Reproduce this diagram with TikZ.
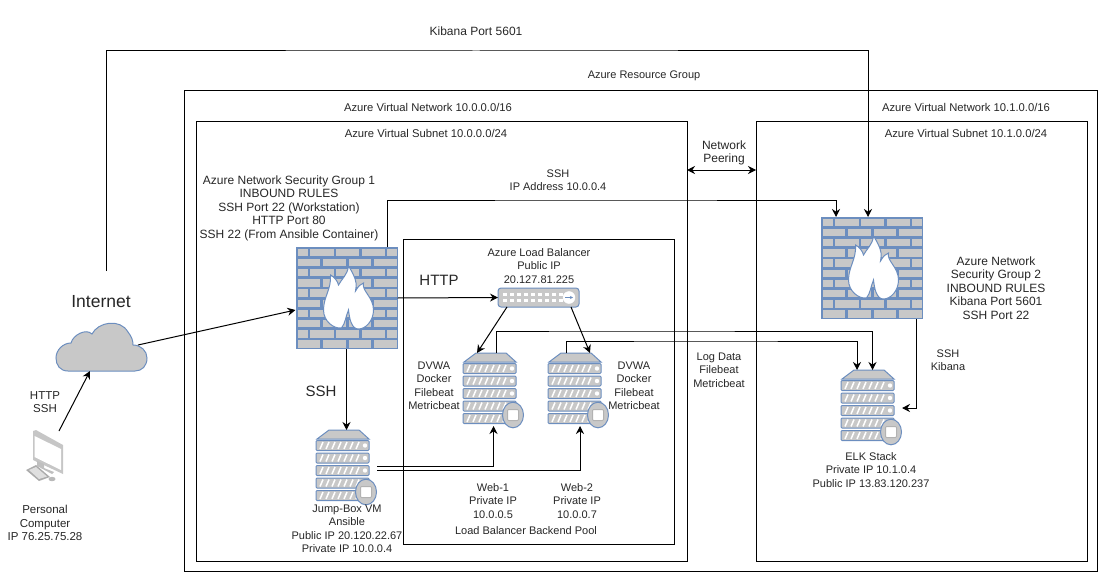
\documentclass[tikz,border=0pt]{standalone}
\usepackage{fontspec}
\setmainfont{Liberation Sans}
\usetikzlibrary{arrows.meta,calc}
\definecolor{iconblue}{HTML}{6C8EBF}
\definecolor{icongrey}{HTML}{C8C8C8}
\tikzset{
	box/.style={draw=black,line width=1pt},
	lbl/.style={align=center,inner sep=0pt,font=\fontsize{#1}{13.5}\selectfont,text=black!85},
	lbl/.default=11,
	biglbl/.style={align=center,inner sep=0pt,font=\fontsize{#1}{18}\selectfont,text=black!85},
	biglbl/.default=15,
	link/.style={draw=black,line width=1pt,-{Stealth[length=8pt,width=8pt]}},
	icon/.style={inner sep=0pt,outer sep=0pt,minimum width=#1},
}
% firewall wall with flame
\newcommand{\firewall}[2]{
	\node[icon=102pt,minimum height=102pt] (#1) at (#2) {};
	\begin{scope}[shift={(#1.north west)}]
	\fill[iconblue] (0,0) rectangle (102,102);
	\foreach \r in {0,2,4,6,8}{
		\foreach \a/\b in {2/12,14/38,40/63,66/89,91/101}
			\fill[icongrey] (\a,{1.5+\r*10.2}) rectangle (\b,{9+\r*10.2});
		\foreach \a/\b in {2/24,27/50,53/75,78/101}
			\fill[icongrey] (\a,{11.7+\r*10.2}) rectangle (\b,{19.2+\r*10.2});
	}
	\draw[iconblue,fill=white,line width=1pt] (53,19) .. controls (60,30) and (62,37) .. (60,44) .. controls (63,39) and (65,37) .. (68,36)
		.. controls (66,44) and (78,50) .. (78,63) .. controls (78,74) and (70,82) .. (63,82)
		.. controls (56,82) and (54,72) .. (53,63) .. controls (50,70) and (50,76) .. (46,81)
		.. controls (38,82) and (28,74) .. (28,63) .. controls (28,50) and (36,42) .. (35,28)
		.. controls (39,30) and (42,34) .. (43,38) .. controls (46,32) and (52,28) .. (53,19) -- cycle;
	\end{scope}
}
% rack server with disk
\newcommand{\server}[2]{
	\node[icon=61pt,minimum height=76pt] (#1) at (#2) {};
	\begin{scope}[shift={(#1.north west)}]
	\draw[iconblue,fill=icongrey,line width=1pt] (1,9) -- (13,0) -- (43,0) -- (53,9) -- cycle;
	\foreach \r in {10.5,23,35.5,48,60.5}{
		\draw[iconblue,fill=icongrey,line width=1pt,rounded corners=1pt] (0,\r) rectangle (53,{\r+10});
		\foreach \s in {4,10,16,22,28,34,40}
			\draw[white,line width=1.5pt] (\s,{\r+8.5}) -- ({\s+3},{\r+1.5});
		\fill[white] (49,{\r+5}) circle (2.2);
	}
	\draw[iconblue,fill=icongrey,line width=1pt] (50,62) ellipse (10.5 and 12.8);
	\draw[gray!60,fill=white,line width=1pt,rounded corners=1pt] (44.5,56.5) rectangle (55.5,67.5);
	\end{scope}
}
\begin{document}
\begin{tikzpicture}[x=1pt,y=-1pt]
	\useasboundingbox (0,0) rectangle (1105,578);
	% boxes
	\draw[box] (184,90) rectangle (1097,571);
	\draw[box] (196,121) rectangle (687,561);
	\draw[box] (756,121) rectangle (1087,561);
	\draw[box] (403,239) rectangle (674,544);
	% icons
	\firewall{fwone}{346.5,298}
	\firewall{fwtwo}{871.5,268}
	\server{webone}{493.5,391}
	\server{webtwo}{578.5,391}
	\server{jump}{346.5,468}
	\server{elk}{871.5,408}
	% load balancer
	\node[icon=81pt,minimum height=19pt] (lb) at (538.5,297.5) {};
	\begin{scope}[shift={(lb.north west)}]
	\draw[iconblue,fill=icongrey,line width=1pt,rounded corners=3pt] (0,0) rectangle (81,19);
	\foreach \s in {5,12,...,61}{
		\fill[white] (\s,5) rectangle ({\s+3.5},7.5);
		\fill[white] (\s,11) rectangle ({\s+3.5},13.5);
	}
	\draw[white,fill=white] (71,9.5) circle (6);
	\draw[iconblue,line width=0.8pt,-{Stealth[length=3pt,width=3pt]}] (67,9.5) -- (75,9.5);
	\end{scope}
	% cloud
	\node[icon=91pt,minimum height=49pt] (cloud) at (101.5,346.5) {};
	\draw[iconblue,fill=icongrey,line width=1pt] (68,371) .. controls (60,371) and (56,365) .. (56,358)
		.. controls (56,350) and (63,343) .. (71,343) .. controls (73,335) and (86,328) .. (92,334)
		.. controls (98,322) and (120,318) .. (128,332) .. controls (132,337) and (133,341) .. (133,345)
		.. controls (141,345) and (147,351) .. (147,358) .. controls (147,366) and (142,371) .. (135,371) -- cycle;
	% computer
	\node[icon=40pt,minimum height=52pt] (pc) at (46,456) {};
	\fill[gray!45] (33,431) -- (36,430) -- (63,445) -- (63,474) -- (33,460) -- cycle;
	\fill[white] (34.5,436) -- (61,449) -- (61,470) -- (34.5,457) -- cycle;
	\fill[gray!50] (37,461) -- (44,464) -- (44,468) -- (54,472) -- (52,474) -- (37,466) -- cycle;
	\fill[gray!65] (26,470) -- (36,465) -- (50,477) -- (39,481) -- cycle;
	\fill[gray!25] (29,470) -- (36,467) -- (47,476.5) -- (39,479) -- cycle;
	\fill[gray!55] (52,479) ellipse (3.5 and 2.2);
	% labels
	\node[lbl=12] (kibanalbl) at (476,31) {Kibana Port 5601};
	\node[lbl] (rglbl) at (644,76) {Azure Resource Group};
	\node[lbl=11.25] (vnetone) at (428,107) {Azure Virtual Network 10.0.0.0/16};
	\node[lbl=11.25] (subone) at (426,133) {Azure Virtual Subnet 10.0.0.0/24};
	\node[lbl=11.25] (vnettwo) at (966,107) {Azure Virtual Network 10.1.0.0/16};
	\node[lbl=11.25] (subtwo) at (966,133) {Azure Virtual Subnet 10.1.0.0/24};
	\node[lbl=12] (peerlbl) at (724,153) {Network\\Peering};
	\node[lbl] (sshtop) at (558,180) {SSH\\IP Address 10.0.0.4};
	\node[lbl=12] (nsgone) at (289,208) {Azure Network Security Group 1\\INBOUND RULES\\SSH Port 22 (Workstation)\\HTTP Port 80\\SSH 22 (From Ansible Container)};
	\node[biglbl=17.5] (netlbl) at (101,302) {Internet};
	\node[lbl=11.5] (pcproto) at (45,402) {HTTP\\SSH};
	\node[lbl=11.5] (pclbl) at (45,523) {Personal\\Computer\\IP 76.25.75.28};
	\node[biglbl] (httplbl) at (439,280) {HTTP};
	\node[biglbl] (sshlbl) at (321,391) {SSH};
	\node[lbl] (lblbl) at (539,266) {Azure Load Balancer\\Public IP\\20.127.81.225};
	\node[lbl] (dvone) at (434,386) {DVWA\\Docker\\Filebeat\\Metricbeat};
	\node[lbl] (dvtwo) at (634,386) {DVWA\\Docker\\Filebeat\\Metricbeat};
	\node[lbl] (loglbl) at (719,370) {Log Data\\Filebeat\\Metricbeat};
	\node[lbl=12] (nsgtwo) at (996,288) {Azure Network\\Security Group 2\\INBOUND RULES\\Kibana Port 5601\\SSH Port 22};
	\node[lbl] (elkproto) at (948,360) {SSH\\Kibana};
	\node[lbl] (elklbl) at (871,470) {ELK Stack\\Private IP 10.1.0.4\\Public IP 13.83.120.237};
	\node[lbl] (jumplbl) at (347,529) {Jump-Box VM\\Ansible\\Public IP 20.120.22.67\\Private IP 10.0.0.4};
	\node[lbl] (weblblone) at (493,501) {Web-1\\Private IP\\10.0.0.5};
	\node[lbl] (weblbltwo) at (577,501) {Web-2\\Private IP\\10.0.0.7};
	\node[lbl] (poollbl) at (526,531) {Load Balancer Backend Pool};
	% connectors
	\coordinate (kibanafree) at (106,271);
	\coordinate (peerleft) at (687,170);
	\coordinate (peerright) at (756,170);
	\draw[link] (kibanafree) |- (476,51) -| ([xshift=-3.5pt]fwtwo.north);
	\draw[link] (fwone.north) ++(40.5,0) |- (600,200) -| ([xshift=-35.5pt]fwtwo.north);
	\draw[link,{Stealth[length=8pt,width=8pt]}-{Stealth[length=8pt,width=8pt]}] (peerleft) -- (peerright);
	\draw[link] ([xshift=13pt,yshift=-1pt]pc.north) -- ([xshift=-11.5pt]cloud.south);
	\draw[link] ([xshift=36.5pt,yshift=1.5pt]cloud.center) -- ([yshift=-12pt]fwone.west);
	\draw[link] (fwone.east) -- (lb.west);
	\draw[link] (fwone.south) -- (jump.north);
	\draw[link] ([xshift=9pt]lb.south west) -- ([xshift=-16.5pt]webone.north);
	\draw[link] ([xshift=-8pt]lb.south east) -- ([xshift=11.5pt]webtwo.north);
	\draw[link] ([yshift=2pt]jump.east) -| ([yshift=3pt]webone.south);
	\draw[link] ([yshift=-2pt]jump.east) -| ([xshift=1.5pt,yshift=3pt]webtwo.south);
	\draw[link] ([xshift=3pt]webone.north) |- (600,331) -| ([xshift=1pt]elk.north);
	\draw[link] ([xshift=-12pt]webtwo.north) |- (700,341) -| ([xshift=-14.5pt]elk.north);
	\draw[link] ([xshift=44.5pt]fwtwo.south) |- (elk.east);
\end{tikzpicture}
\end{document}
